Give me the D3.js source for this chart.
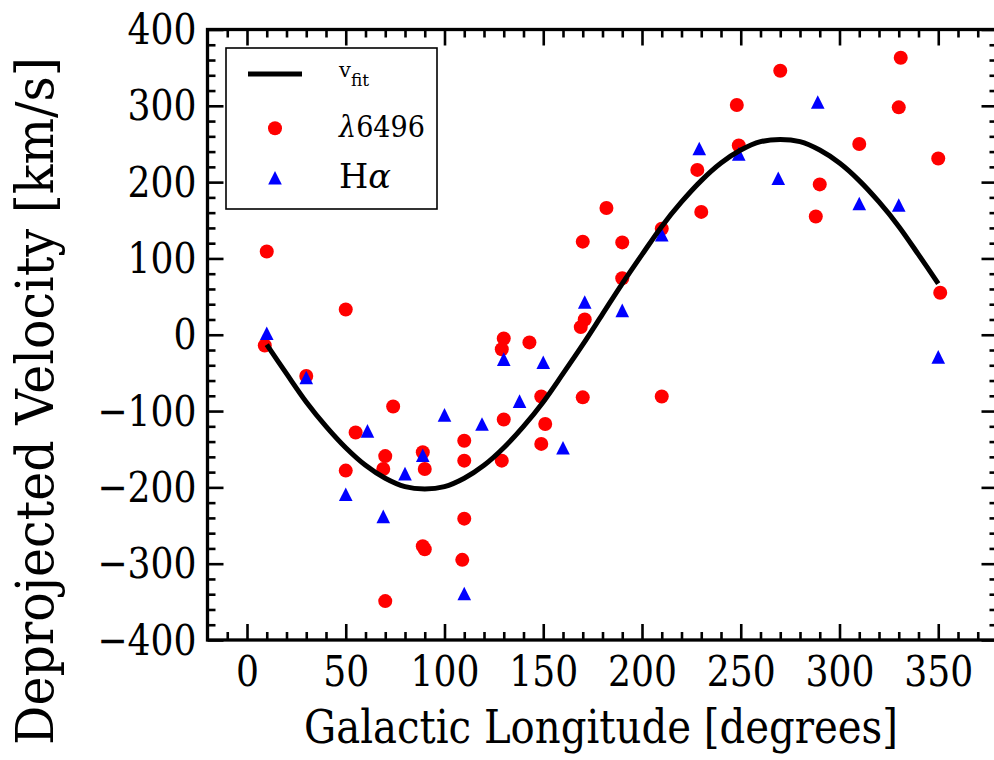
<!DOCTYPE html>
<html>
<head>
<meta charset="utf-8">
<script src="https://cdn.jsdelivr.net/npm/d3@7"></script>
<style>
  html, body { margin: 0; padding: 0; background: #fff; }
  svg { display: block; }
  text { font-family: "DejaVu Serif", serif; fill: #000; }
</style>
</head>
<body>
<svg id="chart" width="994" height="760"></svg>
<script>
// λ6496 measurements: galactic longitude (deg) and deprojected velocity (km/s)
const lineLon = [10, 9, 30, 50, 50, 55, 70, 69, 70, 74, 89, 90, 89, 90, 110, 110, 110, 109,
  130, 129, 130, 129, 143, 149, 151, 149, 169, 171, 170, 170, 182, 190, 190, 210, 210,
  228, 230, 248, 249, 270, 290, 288, 310, 331, 330, 350, 351];
const lineVel = [109, -14, -54, 33, -178, -128, -159, -176, -349, -94, -154, -176, -277, -281, -139, -165, -241, -295,
  -5, -19, -111, -165, -10, -81, -117, -143, 10, 20, 122, -82, 166, 121, 74, 139, -81,
  216, 161, 301, 248, 346, 197, 155, 250, 363, 298, 231, 55];

// Hα measurements
const haLon = [10, 30, 50, 61, 69, 80, 89, 100, 110, 119, 130, 138, 150, 160, 171, 190, 210,
  229, 249, 269, 289, 310, 330, 350];
const haVel = [2, -56, -209, -126, -238, -182, -158, -105, -339, -117, -32, -87, -36, -148, 43, 32, 131,
  244, 237, 205, 305, 172, 170, -29];

// Rotation-curve fit, sampled every 10 degrees
const fitLon = [10, 20, 30, 40, 50, 60, 70, 80, 90, 100, 110, 120, 130, 140, 150, 160, 170, 180,
  190, 200, 210, 220, 230, 240, 250, 260, 270, 280, 290, 300, 310, 320, 330, 340, 350];
const fitVel = [-13, -51, -88, -120, -148, -171, -188, -199, -202, -199, -188, -171, -148, -120, -88, -51, -13, 27,
  67, 105, 142, 174, 202, 225, 242, 253, 256, 253, 242, 225, 202, 174, 142, 105, 67];

// Tick values
const xMajorTicks = [0, 50, 100, 150, 200, 250, 300, 350];
const xMinorTicks = d3.range(-10, 380, 10).filter(v => v % 50 !== 0);
const yMajorTicks = [-400, -300, -200, -100, 0, 100, 200, 300, 400];
const yMinorTicks = d3.range(-380, 400, 20).filter(v => v % 100 !== 0);

const svg = d3.select("#chart");
const plotL = 207.5, plotR = 997.5, plotT = 29.5, plotB = 640;

const x = d3.scaleLinear().domain([-20, 380]).range([plotL, plotR]);
const y = d3.scaleLinear().domain([-400, 400]).range([plotB, plotT]);

const fmt = v => (v < 0 ? "\u2212" + Math.abs(v) : String(v));

const MAJOR = 16, MINOR = 8, TICKW = 2.6;
const SERIF = "'DejaVu Serif', serif";

function styleAxis(g) {
  g.select(".domain").remove();
  g.selectAll(".tick line").attr("stroke", "#000").attr("stroke-width", TICKW);
}

// narrow the wide serif glyphs a little so labels keep a compact, bookish width
function condense(sel, k) {
  sel.each(function () {
    const w = this.getComputedTextLength();
    this.setAttribute("textLength", (w * k).toFixed(1));
    this.setAttribute("lengthAdjust", "spacingAndGlyphs");
  });
}

const TICKFONT = "43px", TICKK = 0.84;

// bottom axis with labels
svg.append("g")
  .attr("transform", `translate(0,${plotB})`)
  .call(d3.axisBottom(x).tickValues(xMajorTicks).tickSize(-MAJOR).tickFormat(fmt))
  .call(styleAxis)
  .call(g => g.selectAll(".tick text")
    .attr("y", 46).attr("dy", 0)
    .style("font-size", TICKFONT)
    .style("font-family", SERIF)
    .call(condense, TICKK));
svg.append("g")
  .attr("transform", `translate(0,${plotB})`)
  .call(d3.axisBottom(x).tickValues(xMinorTicks).tickSize(-MINOR).tickFormat(""))
  .call(styleAxis);

// top axis
svg.append("g")
  .attr("transform", `translate(0,${plotT})`)
  .call(d3.axisTop(x).tickValues(xMajorTicks).tickSize(-MAJOR).tickFormat(""))
  .call(styleAxis);
svg.append("g")
  .attr("transform", `translate(0,${plotT})`)
  .call(d3.axisTop(x).tickValues(xMinorTicks).tickSize(-MINOR).tickFormat(""))
  .call(styleAxis);

// left axis with labels
svg.append("g")
  .attr("transform", `translate(${plotL},0)`)
  .call(d3.axisLeft(y).tickValues(yMajorTicks).tickSize(-MAJOR).tickFormat(fmt))
  .call(styleAxis)
  .call(g => g.selectAll(".tick text")
    .attr("x", -11).attr("dy", 14)
    .attr("text-anchor", "end")
    .style("font-size", TICKFONT)
    .style("font-family", SERIF)
    .call(condense, TICKK));
svg.append("g")
  .attr("transform", `translate(${plotL},0)`)
  .call(d3.axisLeft(y).tickValues(yMinorTicks).tickSize(-MINOR).tickFormat(""))
  .call(styleAxis);

// right axis
svg.append("g")
  .attr("transform", `translate(${plotR},0)`)
  .call(d3.axisRight(y).tickValues(yMajorTicks).tickSize(-MAJOR).tickFormat(""))
  .call(styleAxis);
svg.append("g")
  .attr("transform", `translate(${plotR},0)`)
  .call(d3.axisRight(y).tickValues(yMinorTicks).tickSize(-MINOR).tickFormat(""))
  .call(styleAxis);

// data markers
const R = 7, T = 6.8;
const triPath = `M0,${-T}L${T},${T}L${-T},${T}Z`;

svg.append("g").selectAll("circle")
  .data(d3.zip(lineLon, lineVel))
  .join("circle")
  .attr("cx", d => x(d[0]))
  .attr("cy", d => y(d[1]))
  .attr("r", R)
  .attr("fill", "#ff0000");

svg.append("g").selectAll("path")
  .data(d3.zip(haLon, haVel))
  .join("path")
  .attr("d", triPath)
  .attr("transform", d => `translate(${x(d[0])},${y(d[1])})`)
  .attr("fill", "#0000ff");

// fit curve
const fitLine = d3.line().x(d => x(d[0])).y(d => y(d[1])).curve(d3.curveCatmullRom);
svg.append("path")
  .datum(d3.zip(fitLon, fitVel))
  .attr("d", fitLine)
  .attr("fill", "none")
  .attr("stroke", "#000")
  .attr("stroke-width", 5)
  .attr("stroke-linejoin", "round");

// frame
svg.append("rect")
  .attr("x", plotL).attr("y", plotT)
  .attr("width", plotR - plotL).attr("height", plotB - plotT)
  .attr("fill", "none").attr("stroke", "#000").attr("stroke-width", 3.3);

// axis titles: drawn at full size, then squeezed horizontally to a set length
function title(label, size, len, place) {
  const t = svg.append("text")
    .attr("text-anchor", "middle")
    .style("font-size", size + "px")
    .text(label);
  const w = t.node().getComputedTextLength();
  t.attr("transform", `${place} scale(${(len / w).toFixed(4)},1)`);
  return t;
}
title("Galactic Longitude [degrees]", 47, 594, "translate(601,743)");
title("Deprojected Velocity [km/s]", 52, 688, "translate(53,401) rotate(-90)");

// legend
const lg = svg.append("g");
lg.append("rect")
  .attr("x", 226).attr("y", 48).attr("width", 211).attr("height", 161)
  .attr("fill", "#fff").attr("stroke", "#000").attr("stroke-width", 1.6);
lg.append("line")
  .attr("x1", 248).attr("x2", 302).attr("y1", 74).attr("y2", 74)
  .attr("stroke", "#000").attr("stroke-width", 5);
lg.append("circle").attr("cx", 275).attr("cy", 128.3).attr("r", R).attr("fill", "#ff0000");
lg.append("path").attr("d", triPath).attr("transform", "translate(275,177.7)").attr("fill", "#0000ff");

const vfit = lg.append("text").attr("x", 339).attr("y", 77);
vfit.append("tspan").style("font-size", "21px").text("v");
vfit.append("tspan").attr("dy", 9).style("font-size", "17px").text("fit");

const l1 = lg.append("text").attr("x", 339).attr("y", 136.7).style("font-size", "30px")
  .attr("textLength", 86).attr("lengthAdjust", "spacingAndGlyphs");
l1.append("tspan").style("font-style", "italic").text("\u03bb");
l1.append("tspan").text("6496");

const l2 = lg.append("text").attr("x", 339).attr("y", 188.3).style("font-size", "33px")
  .attr("textLength", 52).attr("lengthAdjust", "spacingAndGlyphs");
l2.append("tspan").text("H");
l2.append("tspan").style("font-style", "italic").text("\u03b1");
</script>
</body>
</html>
